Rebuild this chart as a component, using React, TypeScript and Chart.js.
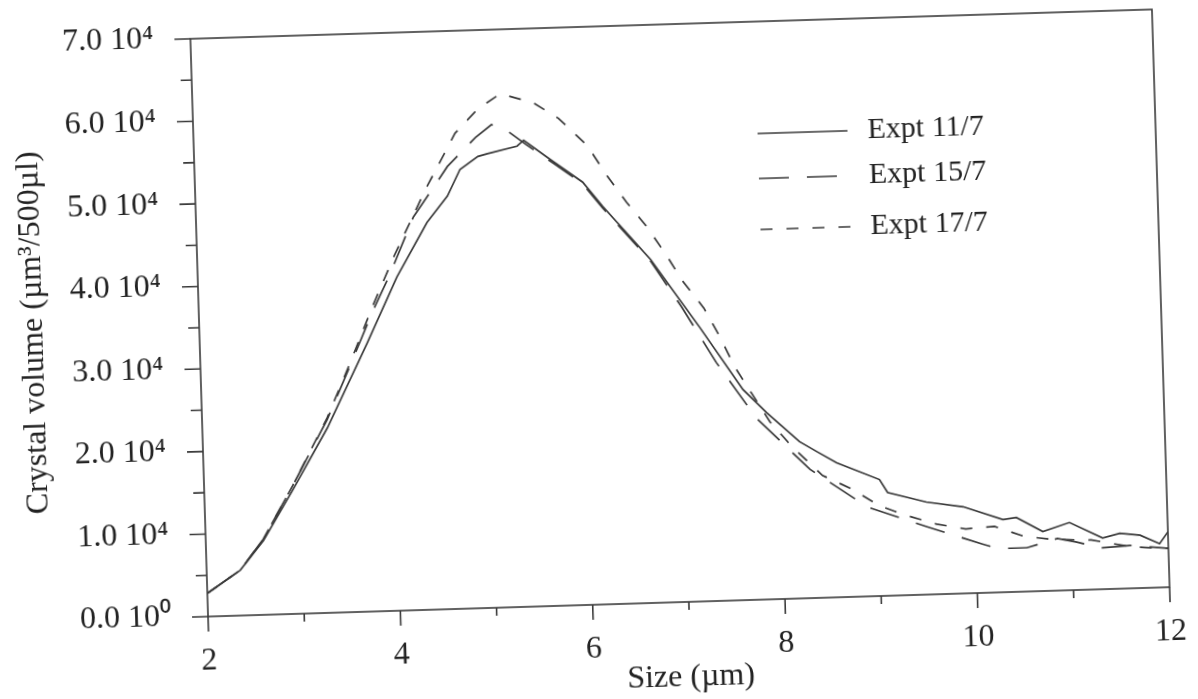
import React, { useEffect, useRef } from 'react';
import { Chart, registerables } from 'chart.js';

Chart.register(...registerables);

// ---- Data (size in µm, crystal volume in µm³/500µl) ----
const SERIES_LABELS = ['Expt 11/7', 'Expt 15/7', 'Expt 17/7'];

const SIZES_11 = [2.0, 2.35, 2.6, 2.92, 3.3, 3.74, 4.07, 4.4, 4.62, 4.76, 4.95, 5.05, 5.36, 5.43, 5.73, 6.03, 6.23, 6.71, 7.2, 7.63, 7.87, 8.2, 8.38, 8.58, 9.02, 9.1, 9.5, 9.88, 10.29, 10.43, 10.7, 10.98, 11.32, 11.5, 11.71, 11.91, 12.0];
const VOLUMES_11 = [2800, 5500, 9000, 15000, 22400, 32500, 40400, 46900, 50000, 53200, 54700, 55000, 55800, 56500, 53800, 51200, 48200, 41600, 33200, 25500, 22600, 19000, 17700, 16300, 14100, 12500, 11200, 10500, 8800, 9000, 7200, 8200, 6200, 6700, 6400, 5300, 6700];

const SIZES_15 = [2.0, 2.35, 2.6, 2.92, 3.3, 3.55, 3.81, 4.0, 4.26, 4.44, 4.63, 4.93, 5.1, 5.25, 5.45, 5.73, 6.03, 6.23, 6.71, 7.02, 7.36, 7.76, 8.3, 8.89, 9.5, 10.07, 10.23, 10.53, 10.85, 11.05, 11.3, 11.6, 12.0];
const VOLUMES_15 = [2800, 5500, 9200, 15500, 23400, 29700, 36400, 40800, 47600, 50500, 53600, 57000, 58500, 57800, 56000, 53600, 51000, 48000, 41400, 35700, 28900, 22000, 15600, 10800, 8200, 5900, 5300, 5300, 6300, 5800, 5000, 5200, 4700];

const SIZES_17 = [2.0, 2.35, 2.6, 2.92, 3.3, 3.55, 3.81, 4.05, 4.39, 4.56, 4.72, 4.96, 5.2, 5.54, 5.8, 6.09, 6.29, 6.48, 6.68, 6.88, 7.04, 7.25, 7.41, 7.55, 7.9, 8.13, 8.43, 8.74, 9.0, 9.25, 9.6, 9.9, 10.2, 10.5, 10.8, 11.2, 11.63, 12.0];
const VOLUMES_17 = [2800, 5500, 9200, 15500, 23600, 30000, 37000, 43000, 50800, 54300, 57600, 60400, 62200, 61000, 59000, 55600, 51800, 48600, 45600, 42000, 38800, 35500, 31900, 28300, 21500, 18300, 14800, 13000, 11000, 9800, 8500, 7800, 8000, 6700, 6200, 6000, 5000, 4700];

const X_TICK_VALUES = [2, 3, 4, 5, 6, 7, 8, 9, 10, 11, 12];
const X_TICK_LABELS = ['2', '', '4', '', '6', '', '8', '', '10', '', '12'];
const Y_TICK_VALUES = [0, 5000, 10000, 15000, 20000, 25000, 30000, 35000, 40000, 45000, 50000, 55000, 60000, 65000, 70000];
const Y_TICK_LABELS = ['0.0 10⁰', '1.0 10⁴', '2.0 10⁴', '3.0 10⁴', '4.0 10⁴', '5.0 10⁴', '6.0 10⁴', '7.0 10⁴'];

const X_TITLE = 'Size (µm)';
const Y_TITLE = 'Crystal volume (µm³/500µl)';

const FONT = "'Liberation Serif', 'Times New Roman', Times, serif";
const INK = '#222222';
const LINE = '#3a3a3a';
const DASHES: number[][] = [[], [30, 18], [12, 14]];

const framePlugin = {
  id: 'frame',
  afterDraw(chart: any) {
    const { ctx, chartArea: a, scales } = chart;
    const x = scales.x;
    const y = scales.y;
    ctx.save();
    ctx.strokeStyle = LINE;
    ctx.lineWidth = 1.6;
    ctx.strokeRect(a.left, a.top, a.right - a.left, a.bottom - a.top);
    ctx.beginPath();
    X_TICK_VALUES.forEach((v) => {
      const px = x.getPixelForValue(v);
      const len = v % 2 === 0 ? 15 : 8;
      ctx.moveTo(px, a.bottom);
      ctx.lineTo(px, a.bottom + len);
    });
    Y_TICK_VALUES.forEach((v) => {
      const py = y.getPixelForValue(v);
      const len = v % 10000 === 0 ? 16 : 11;
      ctx.moveTo(a.left - len, py);
      ctx.lineTo(a.left, py);
    });
    ctx.stroke();

    // legend
    const lx = a.left + 564;
    const rows = [112, 157, 208];
    ctx.font = `30px ${FONT}`;
    ctx.textBaseline = 'middle';
    ctx.textAlign = 'left';
    chart.data.datasets.forEach((ds: any, i: number) => {
      const ly = a.top + rows[i];
      ctx.beginPath();
      ctx.setLineDash(ds.borderDash || []);
      ctx.lineWidth = 1.7;
      ctx.strokeStyle = LINE;
      ctx.moveTo(lx, ly);
      ctx.lineTo(lx + 90, ly);
      ctx.stroke();
      ctx.setLineDash([]);
      ctx.fillStyle = INK;
      ctx.fillText(ds.label, lx + 110, ly);
    });
    ctx.restore();
  },
};

export default function App() {
  const ref = useRef<HTMLCanvasElement>(null);
  useEffect(() => {
    const toPts = (xs: number[], ys: number[]) => xs.map((v, i) => ({ x: v, y: ys[i] }));
    const series = [
      toPts(SIZES_11, VOLUMES_11),
      toPts(SIZES_15, VOLUMES_15),
      toPts(SIZES_17, VOLUMES_17),
    ];
    const chart = new Chart(ref.current as HTMLCanvasElement, {
      type: 'line',
      data: {
        datasets: series.map((d, i) => ({
          label: SERIES_LABELS[i],
          data: d,
          borderColor: LINE,
          borderWidth: 1.7,
          borderDash: DASHES[i],
          pointRadius: 0,
          tension: 0,
          fill: false,
        })),
      },
      options: {
        animation: false,
        responsive: false,
        devicePixelRatio: 1,
        parsing: false,
        layout: { padding: { top: 24, right: 37, bottom: 0, left: 0 } },
        plugins: { legend: { display: false }, tooltip: { enabled: false } },
        scales: {
          x: {
            type: 'linear',
            min: 2,
            max: 12,
            grid: { display: false, drawTicks: false },
            border: { display: false },
            afterBuildTicks: (s: any) => {
              s.ticks = X_TICK_VALUES.map((v) => ({ value: v }));
            },
            ticks: {
              autoSkip: false,
              maxRotation: 0,
              padding: 25,
              color: INK,
              font: { family: FONT, size: 32 },
              callback: (_v: any, i: number) => X_TICK_LABELS[i],
            },
            title: {
              display: true,
              text: X_TITLE,
              color: INK,
              font: { family: FONT, size: 32 },
              padding: { top: 0, bottom: 2 },
            },
            afterFit: (s: any) => {
              s.height = 97;
              s.paddingLeft = 0;
              s.paddingRight = 0;
            },
          },
          y: {
            type: 'linear',
            min: 0,
            max: 70000,
            grid: { display: false, drawTicks: false },
            border: { display: false },
            afterBuildTicks: (s: any) => {
              s.ticks = Y_TICK_VALUES.filter((v) => v % 10000 === 0).map((v) => ({ value: v }));
            },
            ticks: {
              padding: 37,
              color: INK,
              font: { family: FONT, size: 32 },
              callback: (_v: any, i: number) => Y_TICK_LABELS[i],
            },
            title: {
              display: true,
              text: Y_TITLE,
              color: INK,
              font: { family: FONT, size: 32 },
              padding: { top: 14, bottom: 0 },
            },
            afterFit: (s: any) => {
              s.width = 199;
              s.paddingTop = 0;
              s.paddingBottom = 0;
            },
          },
        },
      },
      plugins: [framePlugin],
    } as any);
    return () => chart.destroy();
  }, []);

  return (
    <div
      style={{
        position: 'absolute',
        left: 0,
        top: 0,
        width: 1198,
        height: 699,
        background: '#ffffff',
        transform: 'rotate(-1.75deg)',
        transformOrigin: '680px 313px',
      }}
    >
      <canvas ref={ref} width={1198} height={699} style={{ display: 'block' }} />
    </div>
  );
}
